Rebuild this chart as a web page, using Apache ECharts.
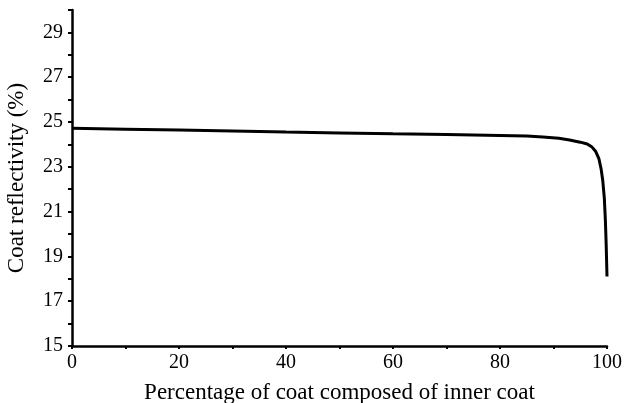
<!DOCTYPE html>
<html><head><meta charset="utf-8">
<script src="https://cdn.jsdelivr.net/npm/echarts@6/dist/echarts.min.js"></script>
<style>html,body{margin:0;padding:0;background:#fff}#c{width:625px;height:403px}</style>
</head><body><div id="c"></div>
<script>
const xValues = [0, 10, 20, 30, 40, 50, 60, 70, 80, 85, 88, 91, 93, 95, 96.3, 97.2, 97.9, 98.5, 98.9, 99.2, 99.5, 99.7, 99.85, 100];
const reflectivity = [24.72, 24.68, 24.64, 24.6, 24.55, 24.51, 24.47, 24.44, 24.4, 24.37, 24.33, 24.27, 24.2, 24.1, 24.02, 23.88, 23.68, 23.35, 22.9, 22.4, 21.6, 20.6, 19.5, 18.1];
const xTitle = 'Percentage of coat composed of inner coat';
const yTitle = 'Coat reflectivity (%)';
const chart = echarts.init(document.getElementById('c'));
const serif = 'Liberation Serif';
chart.setOption({
  animation: false,
  grid: {left: 72, right: 18, top: 10, bottom: 57, outerBoundsMode: 'none', containLabel: false},
  xAxis: {
    type: 'value', min: 0, max: 100, interval: 10,
    name: xTitle, nameLocation: 'middle', nameGap: 35,
    nameTextStyle: {fontFamily: serif, fontSize: 23, color: '#000'},
    axisLine: {lineStyle: {color: '#000', width: 2.5}},
    axisTick: {show: true, length: 3, lineStyle: {color: '#000', width: 2}},
    axisLabel: {fontFamily: serif, fontSize: 20, color: '#000', margin: 7,
      formatter: v => (v % 20 === 0 ? String(v) : '')},
    splitLine: {show: false}
  },
  yAxis: {
    type: 'value', min: 15, max: 30, interval: 1,
    name: yTitle, nameLocation: 'middle', nameGap: 44, nameRotate: 90,
    nameTextStyle: {fontFamily: serif, fontSize: 23, color: '#000'},
    axisLine: {show: true, lineStyle: {color: '#000', width: 2.5}},
    axisTick: {show: true, length: 4, lineStyle: {color: '#000', width: 2}},
    axisLabel: {fontFamily: serif, fontSize: 20, color: '#000', margin: 9,
      formatter: v => (v % 2 === 1 && v < 30 ? String(v) : '')},
    splitLine: {show: false}
  },
  series: [{
    type: 'line', data: xValues.map((x, i) => [x, reflectivity[i]]),
    showSymbol: false, smooth: false,
    lineStyle: {color: '#000', width: 3}
  }]
});
</script></body></html>
